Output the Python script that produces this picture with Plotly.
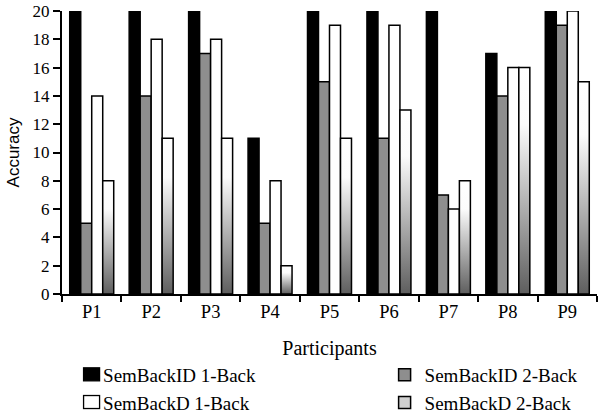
import plotly.graph_objects as go

participants = ["P1", "P2", "P3", "P4", "P5", "P6", "P7", "P8", "P9"]
sem_id_1back = [20, 20, 20, 11, 20, 20, 20, 17, 20]
sem_id_2back = [5, 14, 17, 5, 15, 11, 7, 14, 19]
sem_d_1back = [14, 18, 18, 8, 19, 19, 6, 16, 20]
sem_d_2back = [8, 11, 11, 2, 11, 13, 8, 16, 15]
series_names = ["SemBackID 1-Back", "SemBackID 2-Back", "SemBackD 1-Back", "SemBackD 2-Back"]
series_colors = ["#000000", "#8e8e8e", "#ffffff", "#d0d0d0"]
series_legend = ["legend", "legend2", "legend", "legend2"]
y_ticks = list(range(0, 21, 2))

SERIF = "Liberation Serif, Times New Roman, serif"
SANS = "Liberation Sans, Arial, sans-serif"

fig = go.Figure()
for name, vals, col, leg in zip(series_names,
                                [sem_id_1back, sem_id_2back, sem_d_1back, sem_d_2back],
                                series_colors, series_legend):
    fig.add_trace(go.Bar(
        x=participants, y=vals, name=name, legend=leg,
        marker=dict(color=col, line=dict(color="#000000", width=1.5)),
    ))

legend_common = dict(
    orientation="v", yanchor="top", xanchor="left", y=-0.219,
    font=dict(family=SERIF, size=19, color="black"),
    itemclick=False, tracegroupgap=0, bgcolor="rgba(0,0,0,0)", borderwidth=0,
)

fig.update_layout(
    width=603, height=414,
    margin=dict(l=62, r=5.5, t=11, b=120, autoexpand=False),
    paper_bgcolor="white", plot_bgcolor="white",
    font=dict(family=SERIF, size=18, color="black"),
    barmode="group", bargap=0.26, bargroupgap=0,
    showlegend=True,
    legend=dict(x=0.002, **legend_common),
    legend2=dict(x=0.603, **legend_common),
    xaxis=dict(
        title=dict(text="Participants", font=dict(family=SERIF, size=20), standoff=20),
        showline=True, linecolor="black", linewidth=2,
        ticks="outside", tickson="boundaries", ticklen=6, tickwidth=1.5, tickcolor="black",
        showgrid=False, tickfont=dict(family=SERIF, size=18.5), automargin=False,
    ),
    yaxis=dict(
        title=dict(text="Accuracy", font=dict(family=SANS, size=17), standoff=9),
        range=[0, 20], tickvals=y_ticks,
        showline=True, linecolor="black", linewidth=2,
        ticks="outside", ticklen=7, tickwidth=1.5, tickcolor="black",
        showgrid=False, zeroline=False, tickfont=dict(family=SERIF, size=17),
        automargin=False,
    ),
)

post = """
(function(){
  document.body.style.margin = '0';
  document.body.style.padding = '0';
  document.documentElement.style.margin = '0';
  var gd = document.getElementById('{plot_id}');
  var ns = 'http://www.w3.org/2000/svg';
  function addGrad(defs, id, stops){
    if(document.getElementById(id)) return;
    var lg = document.createElementNS(ns,'linearGradient');
    lg.setAttribute('id', id);
    lg.setAttribute('x1','0'); lg.setAttribute('y1','0');
    lg.setAttribute('x2','0'); lg.setAttribute('y2','1');
    stops.forEach(function(s){
      var st = document.createElementNS(ns,'stop');
      st.setAttribute('offset', s[0]); st.setAttribute('stop-color', s[1]);
      lg.appendChild(st);
    });
    defs.appendChild(lg);
  }
  function apply(){
    var svg = gd.querySelector('svg.main-svg');
    if(!svg) return;
    var defs = svg.querySelector('defs') || svg.insertBefore(document.createElementNS(ns,'defs'), svg.firstChild);
    addGrad(defs, 'gradD2', [['0','#ffffff'],['0.25','#fcfcfc'],['1','#5e5e5e']]);
    addGrad(defs, 'gradD2leg', [['0','#f2f2f2'],['1','#9c9c9c']]);
    addGrad(defs, 'gradID2leg', [['0','#9a9a9a'],['1','#7c7c7c']]);
    var traces = gd.querySelectorAll('.barlayer .trace');
    if(traces.length > 3){
      traces[3].querySelectorAll('path').forEach(function(p){ p.style.fill = 'url(#gradD2)'; });
    }
    var fills = {
      'SemBackID 1-Back': '#000000',
      'SemBackID 2-Back': 'url(#gradID2leg)',
      'SemBackD 1-Back': '#ffffff',
      'SemBackD 2-Back': 'url(#gradD2leg)'
    };
    gd.querySelectorAll('g.traces').forEach(function(item){
      var t = item.querySelector('text.legendtext');
      if(!t) return;
      var name = t.getAttribute('data-unformatted') || t.textContent;
      if(!(name in fills)) return;
      item.querySelectorAll('.legendpoints path').forEach(function(p){ p.style.opacity = 0; });
      var r = item.querySelector('rect.swatch');
      if(!r){
        r = document.createElementNS(ns,'rect');
        r.setAttribute('class','swatch');
        item.appendChild(r);
      }
      var tx = parseFloat(t.getAttribute('x')) || 40;
      r.setAttribute('x', tx - 19.5);
      r.setAttribute('y', -7);
      r.setAttribute('width', 16);
      r.setAttribute('height', 13);
      r.style.fill = fills[name];
      r.style.stroke = '#000';
      r.style.strokeWidth = '1.3px';
      r.style.pointerEvents = 'none';
    });
  }
  apply();
  if(gd.on) gd.on('plotly_afterplot', apply);
})();
"""

fig.write_html("out.html", post_script=post, config={"displayModeBar": False})
